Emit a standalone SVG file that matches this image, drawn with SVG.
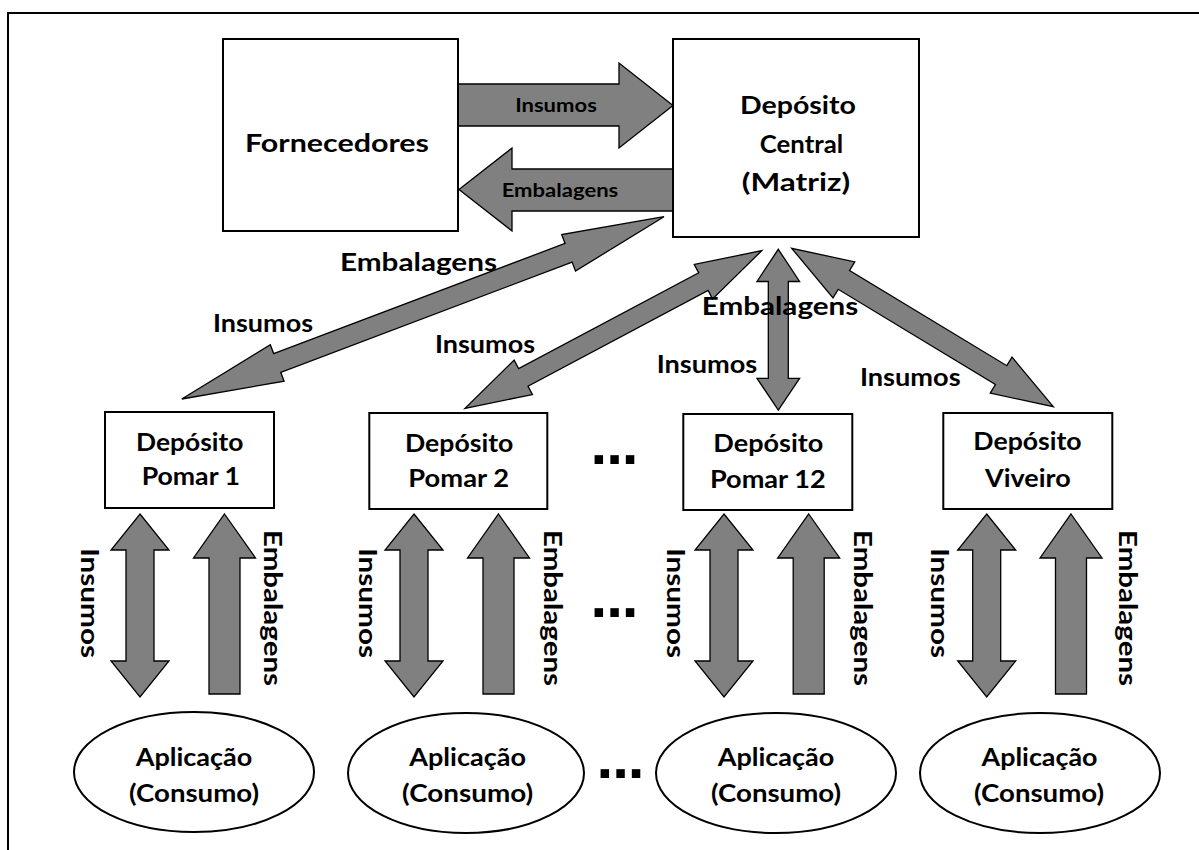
<svg xmlns="http://www.w3.org/2000/svg" xmlns:xlink="http://www.w3.org/1999/xlink" width="1199" height="850" viewBox="0 0 1199 850">
<style>
.box{fill:#fff;stroke:#000;stroke-width:2}
.arr{fill:#808080;stroke:#000;stroke-width:1.3;stroke-linejoin:miter}
text{font-family:Lato,"Open Sans","Liberation Sans",sans-serif;font-weight:bold;fill:#000}
.c{text-anchor:middle}
.s16{font-size:18px}
.s21{font-size:24px}
.s22{font-size:24px}
.s23{font-size:24.5px}
.dots{font-family:"Liberation Sans",Arial,sans-serif;font-weight:bold;font-size:60px;letter-spacing:-1px}
</style>
<defs>
<polygon id="dbl" class="arr" points="0,0 29,36 14,36 14,147 29,147 0,183 -29,147 -14,147 -14,36 -29,36"/>
<polygon id="up" class="arr" points="0,0 31,44 15.5,44 15.5,180 -15.5,180 -15.5,44 -31,44"/>
</defs>
<rect x="8" y="13" width="1210" height="860" fill="#fff" stroke="#000" stroke-width="2"/>

<g id="connectors">
<polygon class="arr" points="458,84 619,84 619,63 673,105.5 619,148 619,126 458,126"/>
<polygon class="arr" points="673,169 512,169 512,148 459,189.5 512,231 512,211 673,211"/>
<polygon class="arr" points="664,216.7 575.49,271.01 572.13,262.12 280.75,372.28 284.11,381.17 181.8,399 270.31,344.69 273.67,353.58 565.05,243.42 561.69,234.53"/>
<polygon class="arr" points="761.7,250.7 712.57,298.88 708.11,290.49 527.97,386.17 532.43,394.56 465,408.3 514.13,360.12 518.59,368.51 698.73,272.83 694.27,264.44"/>
<polygon class="arr" points="778.3,249.3 799.6,281.5 788.3,281.5 788.3,378.3 799.6,378.3 778.3,410 757,378.3 768.3,378.3 768.3,281.5 757,281.5"/>
<polygon class="arr" points="791.7,248.3 833,297.86 838.18,289.31 995.42,384.51 990.24,393.06 1053.3,406.7 1012,357.14 1006.82,365.69 849.58,270.49 854.76,261.94"/>
<use xlink:href="#dbl" x="140" y="514"/>
<use xlink:href="#up" x="224.5" y="514"/>
<use xlink:href="#dbl" x="414" y="514"/>
<use xlink:href="#up" x="498.5" y="514"/>
<use xlink:href="#dbl" x="724" y="514"/>
<use xlink:href="#up" x="808.7" y="514"/>
<use xlink:href="#dbl" x="986.7" y="514"/>
<use xlink:href="#up" x="1071" y="514"/>
<text class="c s16" x="556" y="111.7" textLength="81.7" lengthAdjust="spacingAndGlyphs">Insumos</text>
<text class="c s16" x="560" y="196.7" textLength="116.6" lengthAdjust="spacingAndGlyphs">Embalagens</text>
<text class="c s23" x="418.5" y="270.7" textLength="157" lengthAdjust="spacingAndGlyphs">Embalagens</text>
<text class="c s23" x="263" y="331.7" textLength="100" lengthAdjust="spacingAndGlyphs">Insumos</text>
<text class="c s23" x="485" y="353.3" textLength="100" lengthAdjust="spacingAndGlyphs">Insumos</text>
<text class="c s23" x="780" y="315" textLength="156.6" lengthAdjust="spacingAndGlyphs">Embalagens</text>
<text class="c s23" x="707" y="372.7" textLength="100.6" lengthAdjust="spacingAndGlyphs">Insumos</text>
<text class="c s23" x="910.3" y="385.7" textLength="100.7" lengthAdjust="spacingAndGlyphs">Insumos</text>
<text class="c s23" transform="translate(80.7,603) rotate(90)" textLength="110" lengthAdjust="spacingAndGlyphs">Insumos</text>
<text class="c s23" transform="translate(264,608) rotate(90)" textLength="156" lengthAdjust="spacingAndGlyphs">Embalagens</text>
<text class="c s23" transform="translate(359,603) rotate(90)" textLength="110" lengthAdjust="spacingAndGlyphs">Insumos</text>
<text class="c s23" transform="translate(544,608) rotate(90)" textLength="156" lengthAdjust="spacingAndGlyphs">Embalagens</text>
<text class="c s23" transform="translate(667,603) rotate(90)" textLength="110" lengthAdjust="spacingAndGlyphs">Insumos</text>
<text class="c s23" transform="translate(854,608) rotate(90)" textLength="156" lengthAdjust="spacingAndGlyphs">Embalagens</text>
<text class="c s23" transform="translate(931,603) rotate(90)" textLength="110" lengthAdjust="spacingAndGlyphs">Insumos</text>
<text class="c s23" transform="translate(1119,608) rotate(90)" textLength="156" lengthAdjust="spacingAndGlyphs">Embalagens</text>
</g>

<g id="fornecedores">
<rect class="box" x="223" y="39" width="235" height="192"/>
<text class="c s21" x="337" y="152" textLength="184" lengthAdjust="spacingAndGlyphs">Fornecedores</text>
</g>
<g id="deposito-central">
<rect class="box" x="673" y="39" width="246" height="198"/>
<text class="c s21" x="798" y="114" textLength="116" lengthAdjust="spacingAndGlyphs">Depósito</text>
<text class="c s21" x="801.5" y="152.5" textLength="83.3" lengthAdjust="spacingAndGlyphs">Central</text>
<text class="c s21" x="796" y="191" textLength="108.3" lengthAdjust="spacingAndGlyphs">(Matriz)</text>
</g>
<g id="pomar1">
<rect class="box" x="105" y="412" width="169" height="96"/>
<text class="c s22" x="189.7" y="450.7" textLength="107.3" lengthAdjust="spacingAndGlyphs">Depósito</text>
<text class="c s22" x="190.8" y="485" textLength="98.3" lengthAdjust="spacingAndGlyphs">Pomar 1</text>
</g>
<g id="pomar2">
<rect class="box" x="369.3" y="413" width="178" height="96"/>
<text class="c s22" x="459.2" y="451.7" textLength="108.3" lengthAdjust="spacingAndGlyphs">Depósito</text>
<text class="c s22" x="458.7" y="487.3" textLength="100.7" lengthAdjust="spacingAndGlyphs">Pomar 2</text>
</g>
<g id="pomar12">
<rect class="box" x="683.3" y="414" width="169" height="96"/>
<text class="c s22" x="768.3" y="451.7" textLength="110" lengthAdjust="spacingAndGlyphs">Depósito</text>
<text class="c s22" x="767.8" y="488.3" textLength="115.7" lengthAdjust="spacingAndGlyphs">Pomar 12</text>
</g>
<g id="viveiro">
<rect class="box" x="943.3" y="413" width="169" height="96"/>
<text class="c s22" x="1027.5" y="450" textLength="108.3" lengthAdjust="spacingAndGlyphs">Depósito</text>
<text class="c s22" x="1027.8" y="487.3" textLength="85.7" lengthAdjust="spacingAndGlyphs">Viveiro</text>
</g>
<g id="aplicacao1">
<ellipse class="box" cx="194" cy="772" rx="120" ry="60"/>
<text class="c s22" x="194" y="766" textLength="116.7" lengthAdjust="spacingAndGlyphs">Aplicação</text>
<text class="c s22" x="194" y="802" textLength="130" lengthAdjust="spacingAndGlyphs">(Consumo)</text>
</g>
<g id="aplicacao2">
<ellipse class="box" cx="466" cy="773" rx="118" ry="60"/>
<text class="c s22" x="467.6" y="766" textLength="116.7" lengthAdjust="spacingAndGlyphs">Aplicação</text>
<text class="c s22" x="467.6" y="802" textLength="131" lengthAdjust="spacingAndGlyphs">(Consumo)</text>
</g>
<g id="aplicacao3">
<ellipse class="box" cx="776" cy="773" rx="120" ry="60"/>
<text class="c s22" x="776" y="766" textLength="116.7" lengthAdjust="spacingAndGlyphs">Aplicação</text>
<text class="c s22" x="776" y="802" textLength="130" lengthAdjust="spacingAndGlyphs">(Consumo)</text>
</g>
<g id="aplicacao4">
<ellipse class="box" cx="1040" cy="773" rx="120" ry="60"/>
<text class="c s22" x="1039.5" y="766" textLength="116" lengthAdjust="spacingAndGlyphs">Aplicação</text>
<text class="c s22" x="1039" y="802" textLength="130" lengthAdjust="spacingAndGlyphs">(Consumo)</text>
</g>
<g id="ellipsis">
<text class="dots" x="590.5" y="463.5">...</text>
<text class="dots" x="590.5" y="616.7">...</text>
<text class="dots" x="596.5" y="778.3">...</text>
</g>
</svg>
